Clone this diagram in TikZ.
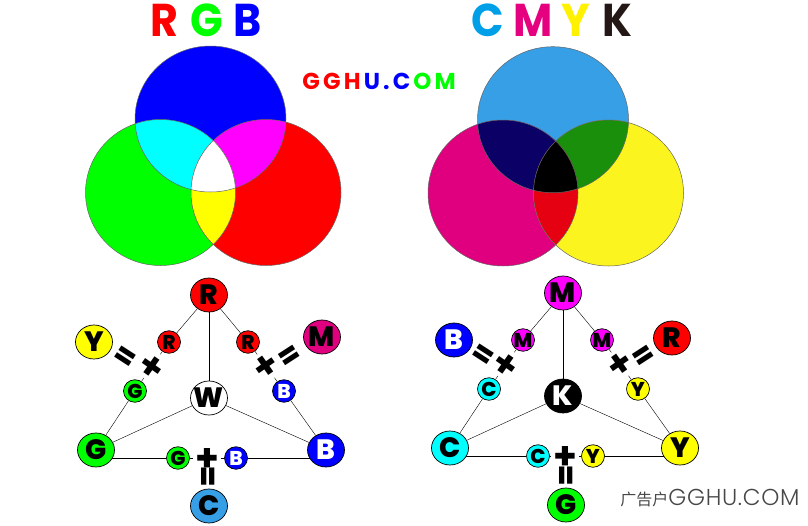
\documentclass[tikz,border=0pt]{standalone}
\usepackage{fontspec}
\setmainfont{Poppins}
\newfontfamily\cjkfont{Noto Sans CJK SC}
\newfontfamily\markfont{Poppins Light}
\newfontfamily\ballfont{Poppins ExtraBold}
\usetikzlibrary{shapes.geometric,backgrounds}

\definecolor{cred}{HTML}{FF0000}
\definecolor{cgreen}{HTML}{00FF00}
\definecolor{cblue}{HTML}{0000FF}
\definecolor{ccyan}{HTML}{00FFFF}
\definecolor{cmagenta}{HTML}{FF00FF}
\definecolor{cyellow}{HTML}{FFFF00}
\definecolor{pcyan}{HTML}{369FE6}
\definecolor{pmagenta}{HTML}{E0007F}
\definecolor{pyellow}{HTML}{FBF41F}
\definecolor{pnavy}{HTML}{0B0066}
\definecolor{pgreen}{HTML}{1A8F0C}
\definecolor{pred}{HTML}{E50012}
\definecolor{tcyan}{HTML}{00A0E9}
\definecolor{tmagenta}{HTML}{E4007F}
\definecolor{tyellow}{HTML}{FFF100}
\definecolor{tblack}{HTML}{231815}

% signs sit a little high in their boxes
\newcommand{\plusmark}{\raisebox{-2pt}[\height][\depth]{+}}
\newcommand{\eqmark}{\raisebox{-2.5pt}[\height][\depth]{=}}

\tikzset{
  ring/.style={draw=black!60,line width=0.5pt},
  bigball/.style={ellipse,draw=black,line width=0.7pt,inner sep=-7pt,
    minimum width=37pt,minimum height=34pt,text height=19.6pt,text depth=0pt,
    font=\fontsize{28}{28}\ballfont},
  smallball/.style={ellipse,draw=black,line width=0.7pt,inner sep=-5pt,
    minimum width=23pt,minimum height=22.5pt,text height=14pt,text depth=0pt,
    font=\fontsize{20}{20}\ballfont},
  plussign/.style={minimum size=28pt,inner sep=0pt,
    font=\fontsize{38}{38}\selectfont\bfseries},
  eqsign/.style={inner sep=0pt,font=\fontsize{30}{30}\ballfont},
  headline/.style={anchor=west,inner sep=0pt,xscale=0.93,
    font=\fontsize{46}{46}\selectfont\bfseries}
}

\begin{document}
\begin{tikzpicture}[x=1pt,y=-1pt,line width=0.9pt]
  \useasboundingbox (0,0) rectangle (808,525);

  % additive circles
  \def\bluedisc{(210.5,119) ellipse [x radius=75.5,y radius=73]}
  \def\greendisc{(160.5,192.5) ellipse [x radius=75,y radius=73]}
  \def\reddisc{(266,192.5) ellipse [x radius=75,y radius=73]}
  \fill[cblue] \bluedisc;
  \fill[cgreen] \greendisc;
  \fill[cred] \reddisc;
  \begin{scope}
    \clip \bluedisc;
    \fill[ccyan] \greendisc;
    \fill[cmagenta] \reddisc;
  \end{scope}
  \begin{scope}
    \clip \greendisc;
    \fill[cyellow] \reddisc;
    \clip \reddisc;
    \fill[white] \bluedisc;
  \end{scope}
  \draw[ring] \bluedisc \greendisc \reddisc;

  % subtractive circles
  \def\cyandisc{(553,119.7) ellipse [x radius=75.5,y radius=73]}
  \def\magentadisc{(503,193) ellipse [x radius=75,y radius=73]}
  \def\yellowdisc{(608.5,193) ellipse [x radius=75,y radius=73]}
  \fill[pcyan] \cyandisc;
  \fill[pmagenta] \magentadisc;
  \fill[pyellow] \yellowdisc;
  \begin{scope}
    \clip \cyandisc;
    \fill[pnavy] \magentadisc;
    \fill[pgreen] \yellowdisc;
  \end{scope}
  \begin{scope}
    \clip \magentadisc;
    \fill[pred] \yellowdisc;
    \clip \yellowdisc;
    \fill[black] \cyandisc;
  \end{scope}
  \draw[ring] \cyandisc \magentadisc \yellowdisc;

  % headings
  \node[headline] (rgbtitle) at (150,20)
    {\textcolor{cred}{R}\hspace{13pt}\textcolor{cgreen}{G}\hspace{11pt}\textcolor{cblue}{B}};
  \node[headline] (cmyktitle) at (471,20)
    {\textcolor{tcyan}{C}\hspace{10pt}\textcolor{tmagenta}{M}\hspace{10pt}\textcolor{tyellow}{Y}\hspace{13pt}\textcolor{tblack}{K}};
  \node[anchor=west,inner sep=0pt,font=\fontsize{23}{23}\selectfont\bfseries\addfontfeature{LetterSpace=14}] (logotext) at (302,81)
    {\textcolor{cred}{GGH}\hspace{3pt}\textcolor{cblue}{U.C}\hspace{3pt}\textcolor{cgreen}{OM}};
  \node[anchor=west,inner sep=0pt,text=black!72,font=\fontsize{23}{23}\selectfont] (marktext) at (620,498.5)
    {{\cjkfont\fontsize{16}{16}\selectfont 广告户}{\markfont\addfontfeature{LetterSpace=3}GGHU.COM}};

  % left triangle
  \node[bigball,fill=cred]      (lR)  at (209,295) {R};
  \node[bigball,fill=cyellow]   (lY)  at (94,342)  {Y};
  \node[bigball,fill=pmagenta]  (lM)  at (322,337) {M};
  \node[bigball,fill=white]     (lW)  at (209,398) {W};
  \node[bigball,fill=cgreen]    (lG)  at (96,450)  {G};
  \node[bigball,fill=cblue,text=white] (lB) at (326,450) {B};
  \node[bigball,fill=pcyan]     (lC)  at (209,506) {C};
  \node[smallball,fill=cred]    (lRa) at (169,342) {R};
  \node[smallball,fill=cred]    (lRb) at (248,342) {R};
  \node[smallball,fill=cgreen]  (lGa) at (135,391) {G};
  \node[smallball,fill=cblue,text=white] (lBa) at (284,391) {B};
  \node[smallball,fill=cgreen]  (lGb) at (178,458) {G};
  \node[smallball,fill=cblue,text=white] (lBb) at (236,458) {B};
  \node[plussign,rotate=-35]    (lPa) at (152,366) {\plusmark};
  \node[plussign,rotate=35]     (lPb) at (266,366) {\plusmark};
  \node[plussign]               (lPc) at (207,458) {\plusmark};
  \node[eqsign,rotate=-33]      (lEa) at (126,356) {\eqmark};
  \node[eqsign,rotate=33]       (lEb) at (289,355) {\eqmark};
  \node[eqsign,rotate=90]       (lEc) at (207,477) {\eqmark};

  % right triangle
  \node[bigball,fill=cmagenta]  (rM)  at (563,293) {M};
  \node[bigball,fill=cblue,text=white] (rB) at (454,340) {B};
  \node[bigball,fill=cred]      (rR)  at (672,338) {R};
  \node[bigball,fill=black,text=white] (rK) at (563,396) {K};
  \node[bigball,fill=ccyan]     (rC)  at (450,448) {C};
  \node[bigball,fill=cyellow]   (rY)  at (680,448) {Y};
  \node[bigball,fill=cgreen]    (rG)  at (566,505) {G};
  \node[smallball,fill=cmagenta] (rMa) at (523,340) {M};
  \node[smallball,fill=cmagenta] (rMb) at (602,340) {M};
  \node[smallball,fill=ccyan]   (rCa) at (489,389) {C};
  \node[smallball,fill=cyellow] (rYa) at (638,389) {Y};
  \node[smallball,fill=ccyan]   (rCb) at (538,456) {C};
  \node[smallball,fill=cyellow] (rYb) at (593,456) {Y};
  \node[plussign,rotate=-35]    (rPa) at (506,364) {\plusmark};
  \node[plussign,rotate=35]     (rPb) at (620,364) {\plusmark};
  \node[plussign]               (rPc) at (565,456) {\plusmark};
  \node[eqsign,rotate=-33]      (rEa) at (484,354) {\eqmark};
  \node[eqsign,rotate=33]       (rEb) at (643,355) {\eqmark};
  \node[eqsign,rotate=90]       (rEc) at (565,476) {\eqmark};

  \begin{scope}[on background layer]
    \path (lR) edge (lRa) edge (lRb) edge (lW)
          (lW) edge (lG) edge (lB)
          (lRa) edge (lPa) (lPa) edge (lGa) (lGa) edge (lG)
          (lRb) edge (lPb) (lPb) edge (lBa) (lBa) edge (lB)
          (lGb) edge (lGb -| lG) edge (lPc) (lPc) edge (lBb) (lBb) edge (lBb -| lB);
    \path (rM) edge (rMa) edge (rMb) edge (rK)
          (rK) edge (rC) edge (rY)
          (rMa) edge (rPa) (rPa) edge (rCa) (rCa) edge (rC)
          (rMb) edge (rPb) (rPb) edge (rYa) (rYa) edge (rY)
          (rCb) edge (rCb -| rC) edge (rPc) (rPc) edge (rYb) (rYb) edge (rYb -| rY);
  \end{scope}
\end{tikzpicture}
\end{document}
